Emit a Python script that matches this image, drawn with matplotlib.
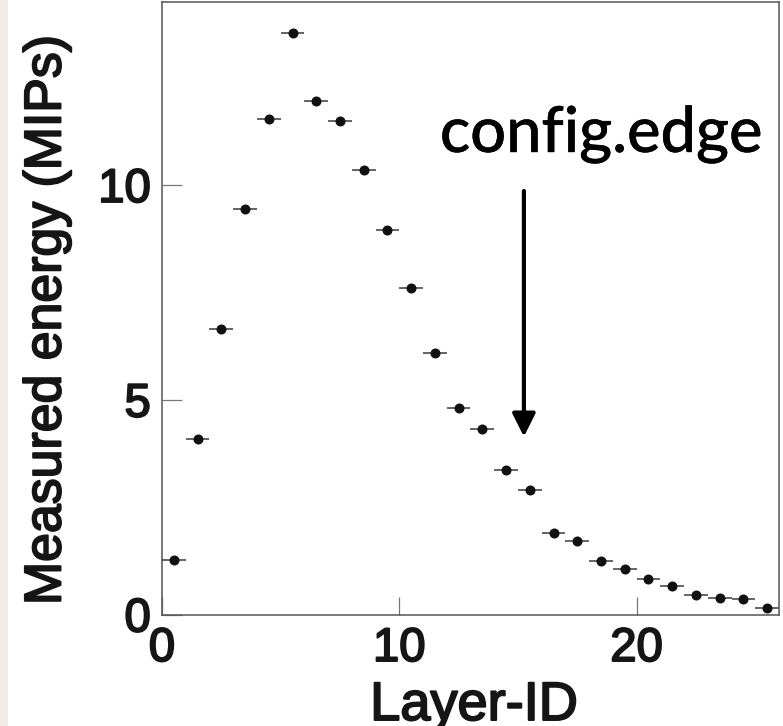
import numpy as np
import matplotlib
matplotlib.use("Agg")
import matplotlib.pyplot as plt
import matplotlib.patheffects as pe
from matplotlib.patches import FancyArrowPatch, Rectangle

# Layer-by-layer energy profile of the shower
layer_id = np.arange(26) + 0.5
layer_halfwidth = np.full(26, 0.5)
energy_mips = [1.27, 4.09, 6.65, 9.45, 11.54, 13.54, 11.95, 11.49, 10.35, 8.95,
               7.59, 6.09, 4.81, 4.33, 3.36, 2.90, 1.90, 1.71, 1.25, 1.06,
               0.83, 0.66, 0.45, 0.38, 0.36, 0.15]
x_ticks = [0, 10, 20]
y_ticks = [0, 5, 10]
annotation_text = "config.edge"
annotation_layer = 15.25
annotation_from = 9.86
annotation_to = 4.14

W, H, DPI = 783, 726, 100
fig = plt.figure(figsize=(W / DPI, H / DPI), dpi=DPI)
fig.patch.set_facecolor("white")

# faint paper band along the left edge
fig.patches.append(Rectangle((0, 0), 8 / W, 1, transform=fig.transFigure,
                             facecolor="#f1ebe7", edgecolor="none", zorder=0))

ax = fig.add_axes([162 / W, (H - 614.5) / H, (779 - 162) / W, (614.5 - 2) / H])
ax.set_xlim(0, 26)
ax.set_ylim(0, 14.26)

ax.errorbar(layer_id, energy_mips, xerr=layer_halfwidth, fmt="o", color="#111111",
            ms=6.2, ecolor="#4a4a4a", elinewidth=1.2, capsize=0, zorder=3)

for s in ax.spines.values():
    s.set_color("#555555")
    s.set_linewidth(1.1)

ink = "#151515"
heavy = [pe.withStroke(linewidth=1.4, foreground=ink)]

ax.set_xticks(x_ticks)
ax.set_yticks(y_ticks)
tick_font = dict(family="Liberation Sans", size=34)
ax.set_xticklabels([str(t) for t in x_ticks], **tick_font)
ax.set_yticklabels([str(t) for t in y_ticks], **tick_font)
for lbl in ax.get_xticklabels() + ax.get_yticklabels():
    lbl.set_path_effects(heavy)
ax.tick_params(axis="x", direction="in", length=13, width=0.9, color="#777777",
               pad=9, labelcolor=ink)
ax.tick_params(axis="y", direction="in", length=14.5, width=0.9, color="#777777",
               pad=8, labelcolor=ink)

fig.text(47 / W, 1 - 320 / H, "Measured energy (MIPs)", rotation=90,
         ha="center", va="center", family="Liberation Sans", size=37.3,
         color=ink, path_effects=heavy)
fig.text(474 / W, (H - 720) / H, "Layer-ID", ha="center", va="baseline",
         family="Liberation Sans", size=39, color=ink, path_effects=heavy)

fig.text(601.5 / W, (H - 152) / H, annotation_text, ha="center", va="baseline",
         family="Lato", size=45.5, weight="medium", color="black",
         path_effects=[pe.withStroke(linewidth=0.3, foreground="black")])

arrow = FancyArrowPatch((annotation_layer, annotation_from),
                        (annotation_layer, annotation_to),
                        arrowstyle="-|>,head_length=14,head_width=7",
                        mutation_scale=1, lw=3, color="black",
                        shrinkA=0, shrinkB=0, zorder=4)
ax.add_patch(arrow)

fig.savefig("out.png", dpi=DPI)
